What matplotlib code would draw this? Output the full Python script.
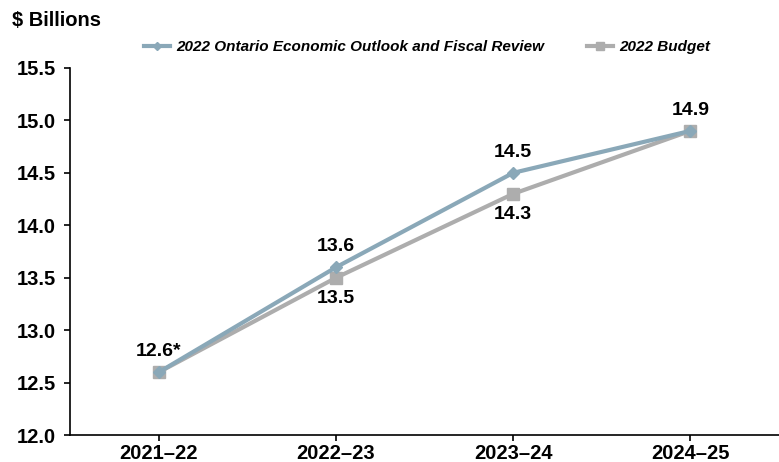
import matplotlib.pyplot as plt

plt.rcParams['font.family'] = ['Liberation Sans', 'DejaVu Sans']

# Data
years = ['2021\u201322', '2022\u201323', '2023\u201324', '2024\u201325']
fall_outlook = [12.6, 13.6, 14.5, 14.9]
budget_2022 = [12.6, 13.5, 14.3, 14.9]
labels_top = ['12.6*', '13.6', '14.5', '14.9']
labels_bottom = ['', '13.5', '14.3', '']
yticks = [12.0, 12.5, 13.0, 13.5, 14.0, 14.5, 15.0, 15.5]

blue = '#8AA8B8'
grey = '#ADADAD'

fig = plt.figure(figsize=(7.79, 4.62), dpi=100)
ax = fig.add_axes([0.090, 0.058, 0.91, 0.795])

x = list(range(len(years)))
ax.plot(x, fall_outlook, color=blue, lw=3, marker='D', ms=6, zorder=3,
        label='2022 Ontario Economic Outlook and Fiscal Review')
ax.plot(x, budget_2022, color=grey, lw=3, marker='s', ms=9, zorder=2,
        label='2022 Budget')

for i, t in enumerate(labels_top):
    ax.annotate(t, (i, fall_outlook[i]), xytext=(0, 15), textcoords='offset points',
                ha='center', va='center', fontsize=14, fontweight='bold')
for i, t in enumerate(labels_bottom):
    if t:
        ax.annotate(t, (i, budget_2022[i]), xytext=(0, -15), textcoords='offset points',
                    ha='center', va='center', fontsize=14, fontweight='bold')

ax.set_xlim(-0.5, 3.5)
ax.set_ylim(12.0, 15.5)
ax.set_yticks(yticks)
ax.set_yticklabels([f'{v:.1f}' for v in yticks], fontsize=14.5, fontweight='bold')
ax.set_xticks(x)
ax.set_xticklabels(years, fontsize=14.5, fontweight='bold')
ax.tick_params(axis='both', direction='out', length=4, width=1.2, colors='black')
ax.tick_params(axis='x', pad=2)
ax.tick_params(axis='y', pad=6)
for s in ['top', 'right']:
    ax.spines[s].set_visible(False)
for s in ['left', 'bottom']:
    ax.spines[s].set_linewidth(1.2)

fig.text(0.016, 0.955, '$ Billions', fontsize=14.5, fontweight='bold', va='center')

leg = fig.legend(loc='center', bbox_to_anchor=(0.548, 0.898), ncol=2, frameon=False,
                 prop={'size': 11, 'weight': 'bold', 'style': 'italic'},
                 handlelength=1.7, columnspacing=2.8, handletextpad=0.4, markerscale=0.7)

fig.savefig('out.png', dpi=100)
